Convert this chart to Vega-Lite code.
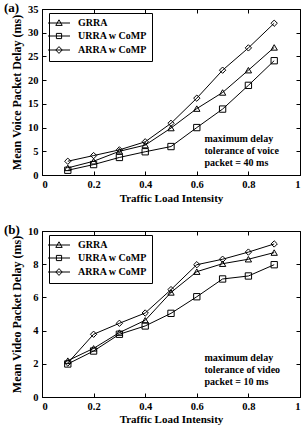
{
  "$schema": "https://vega.github.io/schema/vega-lite/v6.json",
  "padding": {"left": 3, "top": 1, "right": 2, "bottom": 0},
  "spacing": 19,
  "config": {
    "font": "Liberation Serif",
    "view": {"stroke": "black", "strokeWidth": 1},
    "axis": {"grid": false, "domainColor": "black", "tickColor": "black", "labelColor": "black", "titleColor": "black",
             "labelFont": "Liberation Serif", "labelFontWeight": "bold", "labelFontSize": 10.5,
             "titleFont": "Liberation Serif", "titleFontWeight": "bold", "titleFontSize": 11,
             "tickSize": -4, "labelPadding": 8},
    "title": {"font": "Liberation Serif", "fontWeight": "bold", "fontSize": 13, "color": "black"},
    "legend": {"labelFont": "Liberation Serif", "labelFontWeight": "bold", "labelFontSize": 10, "labelColor": "black"}
  },
  "data": {"values": [
    {"panel": "a", "series": "GRRA", "load": 0.1, "delay": 1.5},
    {"panel": "a", "series": "GRRA", "load": 0.2, "delay": 2.9},
    {"panel": "a", "series": "GRRA", "load": 0.3, "delay": 5.0},
    {"panel": "a", "series": "GRRA", "load": 0.4, "delay": 6.3},
    {"panel": "a", "series": "GRRA", "load": 0.5, "delay": 9.9},
    {"panel": "a", "series": "GRRA", "load": 0.6, "delay": 14.0},
    {"panel": "a", "series": "GRRA", "load": 0.7, "delay": 17.4},
    {"panel": "a", "series": "GRRA", "load": 0.8, "delay": 22.1},
    {"panel": "a", "series": "GRRA", "load": 0.9, "delay": 26.9},
    {"panel": "a", "series": "URRA w CoMP", "load": 0.1, "delay": 1.0},
    {"panel": "a", "series": "URRA w CoMP", "load": 0.2, "delay": 2.2},
    {"panel": "a", "series": "URRA w CoMP", "load": 0.3, "delay": 3.7},
    {"panel": "a", "series": "URRA w CoMP", "load": 0.4, "delay": 4.9},
    {"panel": "a", "series": "URRA w CoMP", "load": 0.5, "delay": 6.0},
    {"panel": "a", "series": "URRA w CoMP", "load": 0.6, "delay": 10.0},
    {"panel": "a", "series": "URRA w CoMP", "load": 0.7, "delay": 13.9},
    {"panel": "a", "series": "URRA w CoMP", "load": 0.8, "delay": 18.9},
    {"panel": "a", "series": "URRA w CoMP", "load": 0.9, "delay": 24.1},
    {"panel": "a", "series": "ARRA w CoMP", "load": 0.1, "delay": 2.9},
    {"panel": "a", "series": "ARRA w CoMP", "load": 0.2, "delay": 4.1},
    {"panel": "a", "series": "ARRA w CoMP", "load": 0.3, "delay": 5.3},
    {"panel": "a", "series": "ARRA w CoMP", "load": 0.4, "delay": 7.0},
    {"panel": "a", "series": "ARRA w CoMP", "load": 0.5, "delay": 10.9},
    {"panel": "a", "series": "ARRA w CoMP", "load": 0.6, "delay": 16.2},
    {"panel": "a", "series": "ARRA w CoMP", "load": 0.7, "delay": 22.1},
    {"panel": "a", "series": "ARRA w CoMP", "load": 0.8, "delay": 26.8},
    {"panel": "a", "series": "ARRA w CoMP", "load": 0.9, "delay": 32.0},
    {"panel": "b", "series": "GRRA", "load": 0.1, "delay": 2.19},
    {"panel": "b", "series": "GRRA", "load": 0.2, "delay": 2.93},
    {"panel": "b", "series": "GRRA", "load": 0.3, "delay": 3.88},
    {"panel": "b", "series": "GRRA", "load": 0.4, "delay": 4.62},
    {"panel": "b", "series": "GRRA", "load": 0.5, "delay": 6.3},
    {"panel": "b", "series": "GRRA", "load": 0.6, "delay": 7.55},
    {"panel": "b", "series": "GRRA", "load": 0.7, "delay": 8.03},
    {"panel": "b", "series": "GRRA", "load": 0.8, "delay": 8.3},
    {"panel": "b", "series": "GRRA", "load": 0.9, "delay": 8.7},
    {"panel": "b", "series": "URRA w CoMP", "load": 0.1, "delay": 1.99},
    {"panel": "b", "series": "URRA w CoMP", "load": 0.2, "delay": 2.77},
    {"panel": "b", "series": "URRA w CoMP", "load": 0.3, "delay": 3.78},
    {"panel": "b", "series": "URRA w CoMP", "load": 0.4, "delay": 4.28},
    {"panel": "b", "series": "URRA w CoMP", "load": 0.5, "delay": 5.04},
    {"panel": "b", "series": "URRA w CoMP", "load": 0.6, "delay": 6.04},
    {"panel": "b", "series": "URRA w CoMP", "load": 0.7, "delay": 7.11},
    {"panel": "b", "series": "URRA w CoMP", "load": 0.8, "delay": 7.29},
    {"panel": "b", "series": "URRA w CoMP", "load": 0.9, "delay": 7.97},
    {"panel": "b", "series": "ARRA w CoMP", "load": 0.1, "delay": 2.05},
    {"panel": "b", "series": "ARRA w CoMP", "load": 0.2, "delay": 3.78},
    {"panel": "b", "series": "ARRA w CoMP", "load": 0.3, "delay": 4.44},
    {"panel": "b", "series": "ARRA w CoMP", "load": 0.4, "delay": 5.06},
    {"panel": "b", "series": "ARRA w CoMP", "load": 0.5, "delay": 6.47},
    {"panel": "b", "series": "ARRA w CoMP", "load": 0.6, "delay": 7.97},
    {"panel": "b", "series": "ARRA w CoMP", "load": 0.7, "delay": 8.3},
    {"panel": "b", "series": "ARRA w CoMP", "load": 0.8, "delay": 8.73},
    {"panel": "b", "series": "ARRA w CoMP", "load": 0.9, "delay": 9.22}
  ]},
  "vconcat": [
    {
      "width": 258, "height": 166,
      "title": {"text": "(a)", "anchor": "start", "frame": "group", "dx": -38, "dy": 11, "offset": 0},
      "transform": [{"filter": "datum.panel === 'a'"}],
      "layer": [
        {
          "mark": {"type": "line", "color": "black", "strokeWidth": 1},
          "encoding": {
            "x": {"field": "load", "type": "quantitative", "scale": {"domain": [0, 1]},
                  "axis": {"values": [0, 0.2, 0.4, 0.6, 0.8, 1], "format": "~g", "title": "Traffic Load Intensity", "titlePadding": 3}},
            "y": {"field": "delay", "type": "quantitative", "scale": {"domain": [0, 35]},
                  "axis": {"values": [0, 5, 10, 15, 20, 25, 30, 35], "title": "Mean Voice Packet Delay (ms)", "titlePadding": 4, "titleFontSize": 12}},
            "detail": {"field": "series"}
          }
        },
        {
          "mark": {"type": "point", "filled": false, "color": "black", "size": 40, "strokeWidth": 1, "opacity": 1},
          "encoding": {
            "x": {"field": "load", "type": "quantitative", "scale": {"domain": [0, 1]},
                  "axis": {"orient": "top", "values": [0, 0.2, 0.4, 0.6, 0.8, 1], "labels": false, "title": null, "domain": false}},
            "y": {"field": "delay", "type": "quantitative", "scale": {"domain": [0, 35]},
                  "axis": {"orient": "right", "values": [0, 5, 10, 15, 20, 25, 30, 35], "labels": false, "title": null, "domain": false}},
            "shape": {"field": "series", "type": "nominal",
                      "scale": {"domain": ["GRRA", "URRA w CoMP", "ARRA w CoMP"], "range": ["triangle-up", "square", "diamond"]},
                      "legend": null}
          }
        },
        {
          "transform": [{"filter": "datum.load > 5"}],
          "mark": {"type": "point", "filled": false, "color": "black", "strokeWidth": 1, "opacity": 1},
          "encoding": {
            "shape": {"field": "series", "type": "nominal",
                      "scale": {"domain": ["GRRA", "URRA w CoMP", "ARRA w CoMP"],
                                "range": ["M-2.75,0H2.75M0,-0.8L0.8,0.6H-0.8Z", "M-2.75,0H2.75M-0.65,-0.65H0.65V0.65H-0.65Z", "M-2.75,0H2.75M0,-0.85L0.8,0L0,0.85L-0.8,0Z"]},
                      "legend": {"title": null, "orient": "none", "legendX": 7, "legendY": 4, "strokeColor": "black", "fillColor": "white",
                                 "padding": 5, "symbolSize": 64, "symbolStrokeColor": "black", "symbolStrokeWidth": 1, "symbolFillColor": "transparent", "symbolOpacity": 1, "labelOffset": 14, "rowPadding": 3}}
          }
        },
        {
          "data": {"values": [{"note": "maximum delay\ntolerance of voice\npacket = 40 ms"}]},
          "mark": {"type": "text", "align": "left", "baseline": "middle", "fontWeight": "bold", "fontSize": 10, "lineHeight": 12, "color": "black", "lineBreak": "\n"},
          "encoding": {
            "x": {"datum": 0.63, "type": "quantitative", "axis": null},
            "y": {"datum": 7.6, "type": "quantitative", "axis": null},
            "text": {"field": "note"}
          }
        }
      ],
      "resolve": {"axis": {"x": "independent", "y": "independent"}, "scale": {"shape": "independent"}}
    },
    {
      "width": 258, "height": 166,
      "title": {"text": "(b)", "anchor": "start", "frame": "group", "dx": -38, "dy": 11, "offset": 0},
      "transform": [{"filter": "datum.panel === 'b'"}],
      "layer": [
        {
          "mark": {"type": "line", "color": "black", "strokeWidth": 1},
          "encoding": {
            "x": {"field": "load", "type": "quantitative", "scale": {"domain": [0, 1]},
                  "axis": {"values": [0, 0.2, 0.4, 0.6, 0.8, 1], "format": "~g", "title": "Traffic Load Intensity", "titlePadding": 2}},
            "y": {"field": "delay", "type": "quantitative", "scale": {"domain": [0, 10]},
                  "axis": {"values": [0, 2, 4, 6, 8, 10], "title": "Mean Video Packet Delay (ms)", "titlePadding": 4, "titleFontSize": 12}},
            "detail": {"field": "series"}
          }
        },
        {
          "mark": {"type": "point", "filled": false, "color": "black", "size": 40, "strokeWidth": 1, "opacity": 1},
          "encoding": {
            "x": {"field": "load", "type": "quantitative", "scale": {"domain": [0, 1]},
                  "axis": {"orient": "top", "values": [0, 0.2, 0.4, 0.6, 0.8, 1], "labels": false, "title": null, "domain": false}},
            "y": {"field": "delay", "type": "quantitative", "scale": {"domain": [0, 10]},
                  "axis": {"orient": "right", "values": [0, 2, 4, 6, 8, 10], "labels": false, "title": null, "domain": false}},
            "shape": {"field": "series", "type": "nominal",
                      "scale": {"domain": ["GRRA", "URRA w CoMP", "ARRA w CoMP"], "range": ["triangle-up", "square", "diamond"]},
                      "legend": null}
          }
        },
        {
          "transform": [{"filter": "datum.load > 5"}],
          "mark": {"type": "point", "filled": false, "color": "black", "strokeWidth": 1, "opacity": 1},
          "encoding": {
            "shape": {"field": "series", "type": "nominal",
                      "scale": {"domain": ["GRRA", "URRA w CoMP", "ARRA w CoMP"],
                                "range": ["M-2.75,0H2.75M0,-0.8L0.8,0.6H-0.8Z", "M-2.75,0H2.75M-0.65,-0.65H0.65V0.65H-0.65Z", "M-2.75,0H2.75M0,-0.85L0.8,0L0,0.85L-0.8,0Z"]},
                      "legend": {"title": null, "orient": "none", "legendX": 7, "legendY": 4, "strokeColor": "black", "fillColor": "white",
                                 "padding": 5, "symbolSize": 64, "symbolStrokeColor": "black", "symbolStrokeWidth": 1, "symbolFillColor": "transparent", "symbolOpacity": 1, "labelOffset": 14, "rowPadding": 3}}
          }
        },
        {
          "data": {"values": [{"note": "maximum delay\ntolerance of video\npacket = 10 ms"}]},
          "mark": {"type": "text", "align": "left", "baseline": "middle", "fontWeight": "bold", "fontSize": 10, "lineHeight": 12, "color": "black", "lineBreak": "\n"},
          "encoding": {
            "x": {"datum": 0.63, "type": "quantitative", "axis": null},
            "y": {"datum": 2.33, "type": "quantitative", "axis": null},
            "text": {"field": "note"}
          }
        }
      ],
      "resolve": {"axis": {"x": "independent", "y": "independent"}, "scale": {"shape": "independent"}}
    }
  ],
  "resolve": {"scale": {"shape": "independent"}}
}
